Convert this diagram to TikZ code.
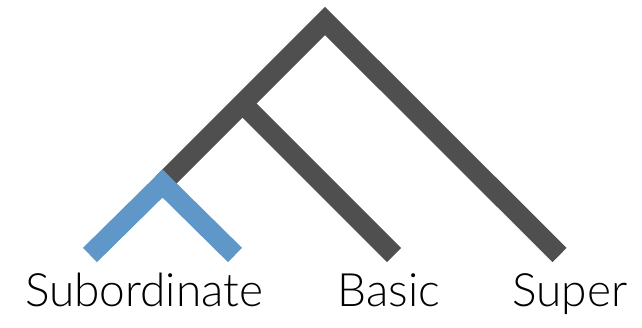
\documentclass[tikz,border=0pt]{standalone}
\usepackage{fontspec}
\setmainfont{Lato}[UprightFont=* Light]
\definecolor{treegray}{HTML}{4F4F4F}
\definecolor{treeblue}{HTML}{6097C9}
\tikzset{
  branch/.style={line width=20pt, line cap=butt, line join=miter, treegray},
  subbranch/.style={branch, treeblue},
  lbl/.style={anchor=base, inner sep=0pt, font=\fontsize{46}{46}\selectfont, text=black}
}
\begin{document}
\begin{tikzpicture}[x=1pt,y=-1pt]
\useasboundingbox (0,0) rectangle (642,328);
\fill[white] (0,0) rectangle (642,328);
\coordinate (root) at (325,21);
\coordinate (subnode) at (162.5,183.5);
\coordinate (basicj) at (242.5,103.5);
\coordinate (basicend) at (394,255);
\coordinate (superend) at (559.5,255);
\coordinate (subleft) at (90,255);
\coordinate (subright) at (235,255);
\draw[branch] (subnode) -- (root) -- (superend);
\draw[branch] (basicj) -- (basicend);
\draw[subbranch] (subleft) -- (subnode) -- (subright);
\node[lbl] (sub) at (144,307) {Subordinate};
\node[lbl] (basic) at (389,307) {Basic};
\node[lbl] (super) at (570,307) {Super};
\end{tikzpicture}
\end{document}
